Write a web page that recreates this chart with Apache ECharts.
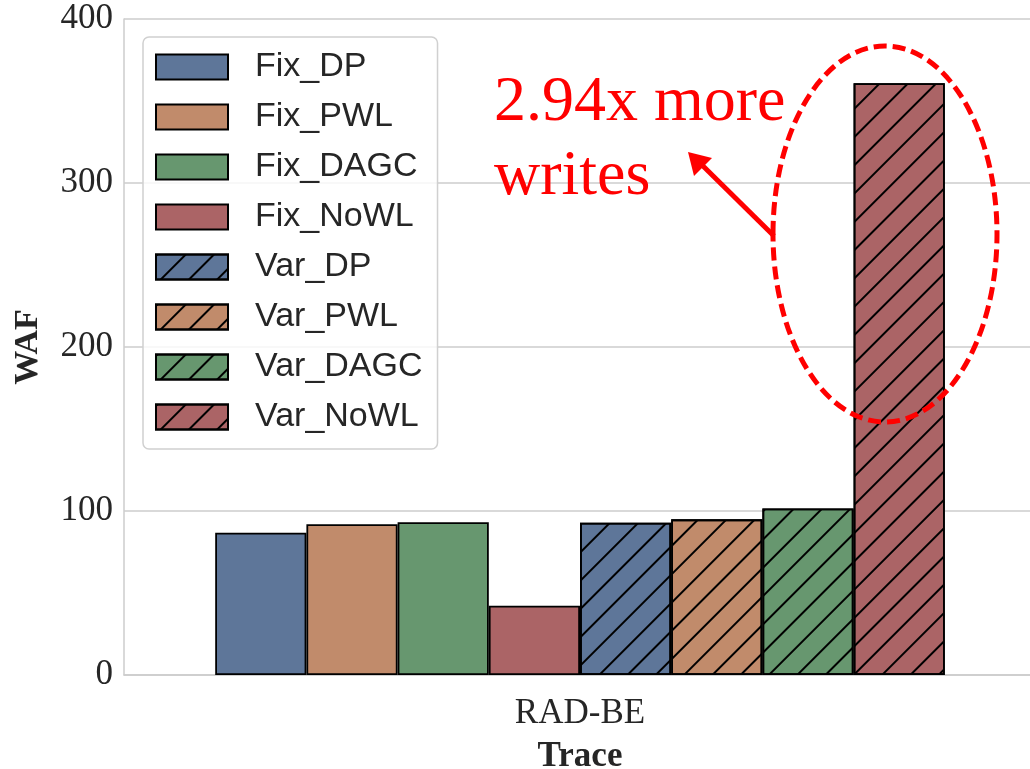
<!DOCTYPE html>
<html>
<head>
<meta charset="utf-8">
<script src="https://cdn.jsdelivr.net/npm/echarts@6/dist/echarts.min.js"></script>
<style>
html,body{margin:0;padding:0;background:#fff;}
#chart{width:1030px;height:769px;}
</style>
</head>
<body>
<div id="chart"></div>
<script>
const categories = ['RAD-BE'];
const seriesNames = ['Fix_DP','Fix_PWL','Fix_DAGC','Fix_NoWL','Var_DP','Var_PWL','Var_DAGC','Var_NoWL'];
const waf = [86.8, 91.9, 93.1, 42.3, 92.9, 94.9, 101.6, 360.8];
const hatched = [false,false,false,false,true,true,true,true];
const palette = ['#5e7699','#c18b6b','#67976f','#ab6466','#5e7699','#c18b6b','#67976f','#ab6466'];
const yMin = 0, yMax = 400, yStep = 100;

const chart = echarts.init(document.getElementById('chart'), null, {renderer:'canvas'});

const hatchDecal = {
  symbol: 'rect',
  symbolSize: 1,
  color: '#000',
  dashArrayX: [1, 0],
  dashArrayY: [2, 17.8],
  rotation: -Math.PI / 4
};

const series = seriesNames.map((name, i) => ({
  name: name,
  type: 'bar',
  data: [waf[i]],
  barGap: '0%',
  barCategoryGap: '20%',
  itemStyle: Object.assign({
    color: palette[i],
    borderColor: '#000',
    borderWidth: 1.8
  }, hatched[i] ? {decal: hatchDecal} : {}),
  emphasis: {disabled: true}
}));

const option = {
  animation: false,
  backgroundColor: '#fff',
  grid: {left: 124, right: -6, top: 19, bottom: 94, containLabel: false, outerBoundsMode: 'none'},
  xAxis: {
    type: 'category',
    data: categories,
    name: 'Trace',
    nameLocation: 'middle',
    nameGap: 64,
    nameTextStyle: {fontFamily: 'Liberation Serif', fontWeight: 'bold', fontSize: 35, color: '#262626'},
    axisLine: {show: true, lineStyle: {color: '#cccccc', width: 1.5}},
    axisTick: {show: false},
    axisLabel: {fontFamily: 'Liberation Serif', fontSize: 35, color: '#262626', margin: 21},
    splitLine: {show: false}
  },
  yAxis: {
    type: 'value',
    min: yMin, max: yMax, interval: yStep,
    name: 'WAF',
    nameLocation: 'middle',
    nameGap: 79,
    nameTextStyle: {fontFamily: 'Liberation Serif', fontWeight: 'bold', fontSize: 34, color: '#262626'},
    axisLine: {show: true, lineStyle: {color: '#cccccc', width: 1.5}},
    axisTick: {show: false},
    axisLabel: {fontFamily: 'Liberation Serif', fontSize: 35, color: '#262626', margin: 11},
    splitLine: {show: true, lineStyle: {color: '#cccccc', width: 1.5}}
  },
  legend: {
    orient: 'vertical',
    left: 143, top: 37,
    padding: [13, 15, 15, 12],
    itemWidth: 72, itemHeight: 25, itemGap: 16,
    icon: 'rect',
    backgroundColor: 'rgba(255,255,255,0.8)',
    borderColor: '#d0d0d0', borderWidth: 1.5, borderRadius: 6,
    textStyle: {fontFamily: 'Liberation Sans', fontSize: 34, color: '#262626', padding: [0,0,0,22]},
    data: seriesNames
  },
  graphic: [
    {type: 'ellipse', shape: {cx: 885, cy: 234, rx: 112, ry: 188}, z: 100,
     style: {fill: 'none', stroke: '#ff0000', lineWidth: 5, lineDash: [13, 6]}},
    {type: 'line', shape: {x1: 774, y1: 236, x2: 702, y2: 165}, z: 100,
     style: {stroke: '#ff0000', lineWidth: 5}},
    {type: 'polygon', shape: {points: [[688, 152], [712, 158], [694, 176]]}, z: 100,
     style: {fill: '#ff0000'}},
    {type: 'text', left: 494, top: 71, z: 100,
     style: {text: '2.94x more', fontFamily: 'Liberation Serif', fontSize: 64, fill: '#ff0000'}},
    {type: 'text', left: 494, top: 145, z: 100,
     style: {text: 'writes', fontFamily: 'Liberation Serif', fontSize: 64, fill: '#ff0000'}}
  ],
  series: series
};
chart.setOption(option);
</script>
</body>
</html>
